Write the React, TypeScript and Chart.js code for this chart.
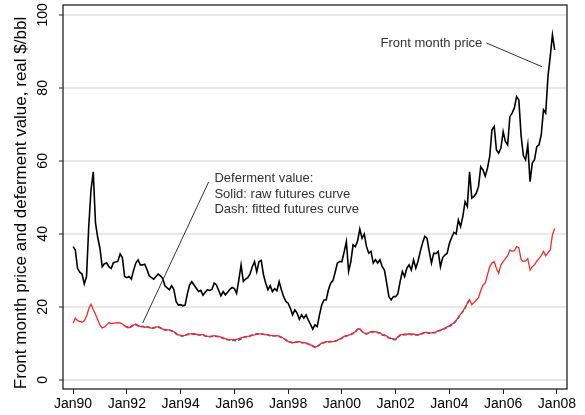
import React, { useEffect, useRef } from 'react';
import { Chart, registerables } from 'chart.js';

Chart.register(...registerables);

const FONT = '"Liberation Sans", Arial, Helvetica, sans-serif';

const X_TICK_MONTHS = [0, 24, 48, 72, 96, 120, 144, 168, 192, 216];
const X_TICK_LABELS = ['Jan90', 'Jan92', 'Jan94', 'Jan96', 'Jan98', 'Jan00', 'Jan02', 'Jan04', 'Jan06', 'Jan08'];
const Y_TICKS = [0, 20, 40, 60, 80, 100];
const Y_TITLE = 'Front month price and deferment value, real $/bbl';
const NOTE_FRONT = 'Front month price';
const NOTE_DEFER = ['Deferment value:', 'Solid: raw futures curve', 'Dash: fitted futures curve'];

// Monthly values, Jan 1990 .. Dec 2007 (real $/bbl)
const FRONT_MONTH = [
  36.5, 35.6, 30.5, 29.5, 29.0, 26.3, 28.3, 42.0, 52.0, 57.0, 43.0, 39.0,
  36.0, 31.0, 31.8, 32.0, 31.0, 30.5, 32.1, 32.3, 32.5, 34.5, 33.5, 28.3,
  28.0, 28.3, 27.6, 30.0, 32.0, 32.9, 31.5, 31.5, 31.7, 30.2, 28.5, 28.0,
  27.6, 28.3, 29.0, 28.5, 27.8, 25.8, 25.2, 24.7, 25.8, 24.7, 21.5, 20.5,
  20.6, 20.3, 20.5, 23.5, 26.0, 26.9, 26.0, 25.1, 24.2, 24.5, 23.2, 24.0,
  24.7, 24.5, 24.8, 26.5, 26.0, 24.5, 23.0, 24.2, 23.3, 24.0, 24.8, 25.3,
  25.0, 23.7, 27.4, 31.5, 27.0, 27.6, 28.0, 29.0, 31.0, 32.4, 29.6, 32.4,
  32.7, 28.8, 26.5, 24.7, 25.8, 24.2, 25.0, 24.4, 26.9, 24.7, 22.8, 21.5,
  21.0, 19.6, 17.8, 19.2, 18.3, 16.6, 17.8, 16.9, 17.8, 16.4, 15.2, 13.9,
  15.1, 14.6, 17.8, 20.5, 21.9, 21.9, 24.7, 26.5, 27.2, 29.5, 32.0, 32.4,
  32.4, 35.0, 37.9, 29.7, 32.4, 37.0, 36.5, 38.0, 41.3, 38.8, 40.0, 36.5,
  34.7, 35.2, 32.0, 32.9, 32.0, 32.9, 31.0, 30.1, 26.5, 22.8, 21.9, 22.8,
  22.8, 23.6, 26.9, 29.7, 28.3, 30.6, 31.5, 30.1, 32.9, 30.6, 32.5, 35.2,
  37.5, 39.3, 38.8, 35.2, 32.0, 34.7, 34.6, 35.2, 31.0, 33.5, 34.2, 34.7,
  37.4, 39.0, 40.4, 40.0, 43.8, 42.0, 44.8, 48.8, 47.5, 57.0, 49.8, 50.3,
  51.1, 53.0, 58.4, 57.5, 55.8, 58.0, 61.2, 68.5, 69.4, 63.0, 62.1, 63.5,
  68.0, 65.3, 64.4, 72.1, 73.1, 74.5, 77.6, 76.7, 67.0, 61.5, 60.3, 64.4,
  54.3, 59.4, 60.3, 63.9, 64.4, 67.1, 74.0, 73.1, 83.1, 88.5, 94.5, 90.4,
];

const DEFER_RAW = [
  15.5, 16.9, 16.2, 16.0, 15.8, 16.2, 17.4, 19.5, 20.7, 19.3, 18.0, 16.5,
  15.0, 14.2, 14.5, 15.0, 15.7, 15.4, 15.5, 15.6, 15.7, 15.6, 15.3, 14.8,
  14.6, 14.3, 14.6, 15.0, 15.3, 14.9, 14.6, 14.6, 14.4, 14.5, 14.3, 14.2,
  14.2, 14.4, 14.6, 14.3, 13.9, 13.8, 13.7, 13.7, 13.5, 13.2, 12.8, 12.3,
  12.2, 12.1, 12.2, 12.5, 12.6, 12.6, 12.5, 12.5, 12.4, 12.4, 12.4, 12.1,
  11.9, 11.9, 12.0, 12.1, 12.0, 11.9, 11.7, 11.5, 11.3, 11.1, 11.0, 11.0,
  11.0, 11.1, 11.3, 11.5, 11.7, 11.8, 11.9, 12.0, 12.2, 12.3, 12.5, 12.6,
  12.6, 12.5, 12.4, 12.3, 12.2, 12.1, 12.1, 12.1, 12.0, 11.7, 11.4, 11.0,
  10.5, 10.4, 10.2, 10.2, 10.4, 10.5, 10.3, 10.2, 10.1, 9.9, 9.6, 9.3,
  9.0, 9.2, 9.6, 10.1, 10.3, 10.5, 10.5, 10.5, 10.5, 10.6, 10.9, 11.2,
  11.5, 11.9, 12.1, 12.2, 12.5, 12.8, 13.2, 13.9, 14.0, 13.3, 12.8, 12.7,
  12.9, 13.2, 13.2, 13.2, 13.0, 12.9, 12.4, 12.3, 12.0, 11.6, 11.4, 11.2,
  11.1, 11.8, 12.3, 12.4, 12.5, 12.5, 12.6, 12.5, 12.6, 12.4, 12.3, 12.6,
  12.8, 13.0, 13.0, 12.9, 12.9, 13.0, 13.1, 13.5, 13.6, 13.9, 14.2, 14.5,
  14.8, 15.2, 15.6, 16.3, 17.2, 18.0, 18.8, 19.8, 21.0, 22.0, 20.6, 21.2,
  21.9, 22.5, 24.5, 26.0, 26.5, 28.8, 31.0, 32.0, 32.4, 30.5, 29.2, 31.5,
  32.4, 33.2, 34.0, 35.6, 35.2, 35.4, 36.5, 36.2, 33.0, 32.4, 32.6, 33.2,
  30.1, 31.0, 31.5, 32.5, 33.2, 34.0, 35.2, 34.0, 34.8, 35.6, 39.7, 41.5,
];

const DEFER_FIT = [
  null, null, null, null, null, null, null, null, null, null, null, null,
  null, null, null, null, null, null, null, null, null, null, null, 14.7,
  14.5, 14.2, 14.7, 15.0, 15.1, 14.8, 14.5, 14.7, 14.5, 14.6, 14.4, 14.1,
  14.3, 14.5, 14.5, 14.2, 13.8, 13.7, 13.6, 13.6, 13.4, 13.1, 12.6, 12.2,
  12.1, 12.0, 12.2, 12.4, 12.5, 12.6, 12.6, 12.4, 12.3, 12.3, 12.3, 12.0,
  11.8, 11.8, 11.9, 12.0, 11.9, 11.8, 11.6, 11.4, 11.2, 11.0, 10.9, 10.9,
  10.8, 10.7, 10.9, 11.2, 11.6, 11.8, 11.9, 12.1, 12.3, 12.4, 12.6, 12.6,
  12.5, 12.5, 12.3, 12.3, 12.1, 12.0, 12.0, 12.1, 11.9, 11.6, 11.3, 10.9,
  10.4, 10.3, 10.1, 10.3, 10.4, 10.4, 10.2, 10.2, 10.0, 9.8, 9.5, 9.2,
  8.9, 9.2, 9.6, 10.0, 10.2, 10.4, 10.4, 10.5, 10.4, 10.6, 10.8, 11.1,
  11.4, 11.8, 12.0, 12.2, 12.4, 12.7, 13.1, 13.8, 13.9, 13.3, 12.7, 12.6,
  12.8, 13.1, 13.1, 13.1, 12.9, 12.8, 12.3, 12.2, 11.9, 11.5, 11.3, 11.1,
  11.0, 11.7, 12.2, 12.3, 12.4, 12.4, 12.5, 12.4, 12.5, 12.3, 12.3, 12.5,
  12.7, 12.9, 12.9, 12.8, 12.8, 12.9, 13.0, 13.4, 13.5, 13.8, 14.1, 14.4,
  14.7, 15.1, 15.5, 16.2, 17.0, 17.9, 18.7, 19.7, 20.9, 22.1, null, null,
  null, null, null, null, null, null, null, null, null, null, null, null,
  null, null, null, null, null, null, null, null, null, null, null, null,
  null, null, null, null, null, null, null, null, null, null, null, null,
];

// annotation anchors in data units (month index, value)
const NOTE_FRONT_POS = { x: 182.7, y: 92.3 };
const NOTE_FRONT_LINE = [{ x: 184.5, y: 92.3 }, { x: 209.3, y: 85.8 }];
const NOTE_DEFER_POS = { x: 63.1, y: [55.3, 50.9, 46.7] };
const NOTE_DEFER_LINE = [{ x: 60.5, y: 54.2 }, { x: 31.1, y: 15.6 }];

const toPoints = (arr: (number | null)[]) => arr.map((v, i) => ({ x: i, y: v }));

const decor = {
  id: 'decor',
  afterDraw(chart: any) {
    const { ctx, chartArea: a, scales } = chart;
    const x = scales.x;
    const y = scales.y;
    ctx.save();
    // frame
    ctx.strokeStyle = '#222';
    ctx.lineWidth = 1.3;
    ctx.strokeRect(a.left, a.top, a.right - a.left, a.bottom - a.top);

    // y tick labels (rotated)
    ctx.fillStyle = '#000';
    ctx.font = `14px ${FONT}`;
    ctx.textAlign = 'center';
    ctx.textBaseline = 'middle';
    Y_TICKS.forEach((v) => {
      ctx.save();
      ctx.translate(a.left - 20, y.getPixelForValue(v));
      ctx.rotate(-Math.PI / 2);
      ctx.fillText(String(v), 0, 0);
      ctx.restore();
    });
    // y title
    ctx.save();
    ctx.translate(a.left - 42, (a.top + a.bottom) / 2 + 6);
    ctx.rotate(-Math.PI / 2);
    ctx.font = `17px ${FONT}`;
    ctx.fillText(Y_TITLE, 0, 0);
    ctx.restore();

    // annotations
    ctx.fillStyle = '#333';
    ctx.strokeStyle = '#333';
    ctx.lineWidth = 1;
    ctx.font = `13px ${FONT}`;
    ctx.textAlign = 'right';
    ctx.fillText(NOTE_FRONT, x.getPixelForValue(NOTE_FRONT_POS.x), y.getPixelForValue(NOTE_FRONT_POS.y));
    ctx.beginPath();
    ctx.moveTo(x.getPixelForValue(NOTE_FRONT_LINE[0].x), y.getPixelForValue(NOTE_FRONT_LINE[0].y));
    ctx.lineTo(x.getPixelForValue(NOTE_FRONT_LINE[1].x), y.getPixelForValue(NOTE_FRONT_LINE[1].y));
    ctx.stroke();

    ctx.textAlign = 'left';
    NOTE_DEFER.forEach((t, i) => {
      ctx.fillText(t, x.getPixelForValue(NOTE_DEFER_POS.x), y.getPixelForValue(NOTE_DEFER_POS.y[i]));
    });
    ctx.beginPath();
    ctx.moveTo(x.getPixelForValue(NOTE_DEFER_LINE[0].x), y.getPixelForValue(NOTE_DEFER_LINE[0].y));
    ctx.lineTo(x.getPixelForValue(NOTE_DEFER_LINE[1].x), y.getPixelForValue(NOTE_DEFER_LINE[1].y));
    ctx.stroke();
    ctx.restore();
  },
};

export default function App() {
  const ref = useRef<HTMLCanvasElement | null>(null);
  useEffect(() => {
    if (!ref.current) return;
    const chart = new Chart(ref.current, {
      type: 'line',
      data: {
        datasets: [
          {
            label: 'Front month price',
            data: toPoints(FRONT_MONTH),
            borderColor: '#000',
            borderWidth: 1.6,
            pointRadius: 0,
            tension: 0,
            order: 0,
          },
          {
            label: 'Deferment value (raw)',
            data: toPoints(DEFER_RAW),
            borderColor: '#f52a2a',
            borderWidth: 1.3,
            pointRadius: 0,
            tension: 0,
            order: 1,
          },
          {
            label: 'Deferment value (fitted)',
            data: toPoints(DEFER_FIT),
            borderColor: '#3f5bb0',
            borderWidth: 1.6,
            borderDash: [4, 2],
            pointRadius: 0,
            tension: 0,
            spanGaps: false,
            order: 2,
          },
        ],
      },
      options: {
        animation: false,
        responsive: false,
        devicePixelRatio: 1,
        parsing: true,
        layout: { padding: { left: 0, top: 5, right: 18, bottom: 0 } },
        plugins: { legend: { display: false }, tooltip: { enabled: false } },
        scales: {
          x: {
            type: 'linear',
            min: -4.5,
            max: 220.5,
            afterBuildTicks: (s: any) => {
              s.ticks = X_TICK_MONTHS.map((v) => ({ value: v }));
            },
            afterFit: (s: any) => {
              s.height = 26;
            },
            ticks: {
              autoSkip: false,
              maxRotation: 0,
              minRotation: 0,
              padding: 2,
              color: '#000',
              font: { size: 14, family: FONT },
              callback: (_v: any, i: number) => X_TICK_LABELS[i],
            },
            grid: {
              drawOnChartArea: false,
              drawTicks: true,
              tickLength: 5,
              tickColor: '#222',
              tickWidth: 1,
            },
            border: { display: false },
          },
          y: {
            type: 'linear',
            min: -2.5,
            max: 102.7,
            afterBuildTicks: (s: any) => {
              s.ticks = Y_TICKS.map((v) => ({ value: v }));
            },
            afterFit: (s: any) => {
              s.width = 63;
            },
            ticks: { display: false },
            grid: {
              color: '#e8e8e8',
              lineWidth: 2,
              drawTicks: true,
              tickLength: 4,
              tickColor: '#222',
              tickWidth: 1,
            },
            border: { display: false },
          },
        },
      },
      plugins: [decor],
    });
    return () => chart.destroy();
  }, []);
  return (
    <div style={{ position: 'absolute', left: 0, top: 0, width: 585, height: 415, background: '#fff' }}>
      <canvas ref={ref} width={585} height={415} style={{ display: 'block' }} />
    </div>
  );
}
